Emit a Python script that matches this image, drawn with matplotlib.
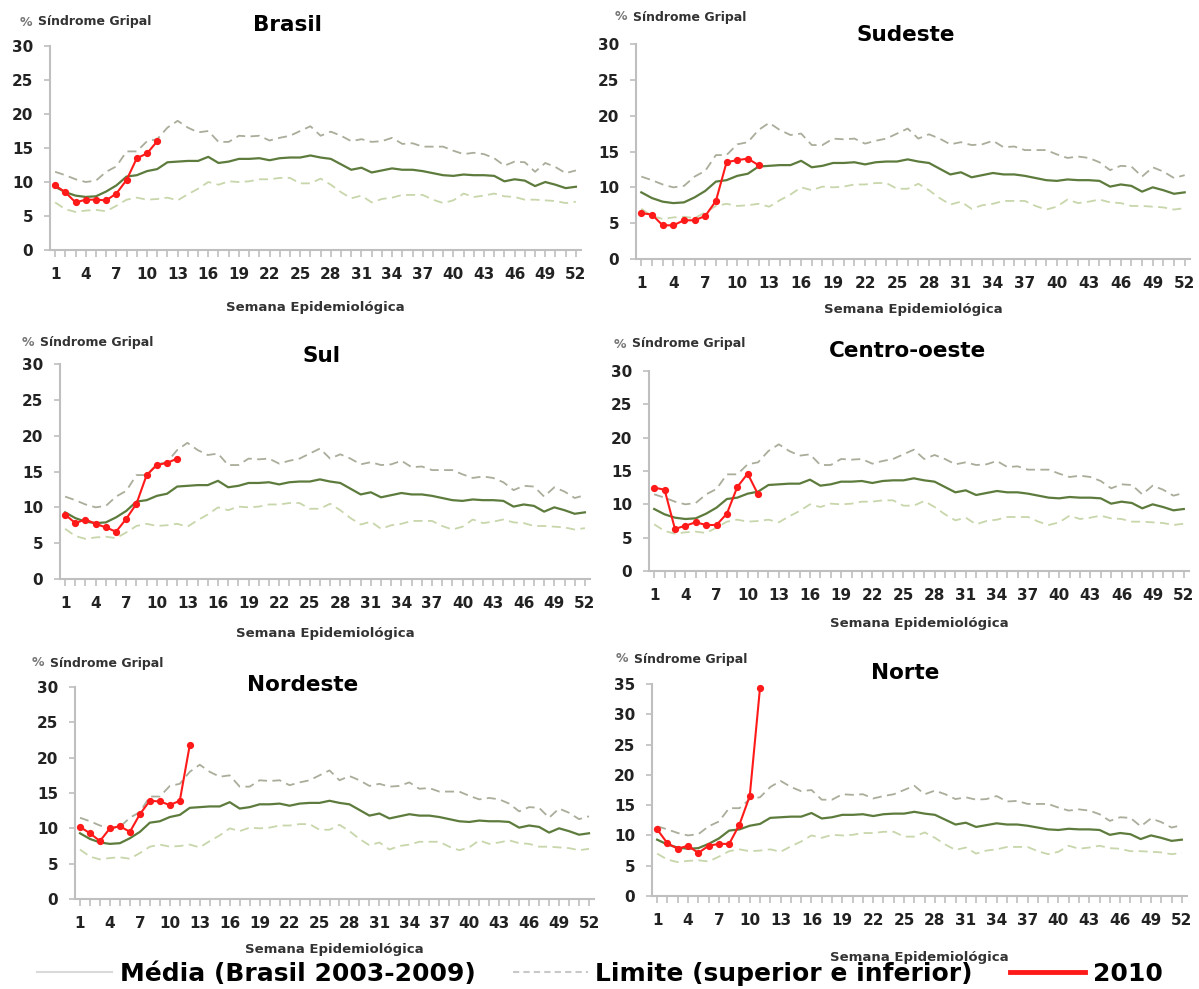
import matplotlib
matplotlib.use('Agg')
import matplotlib.pyplot as plt
from matplotlib.lines import Line2D

plt.rcParams['font.family'] = ['DejaVu Sans']

weeks = list(range(1, 53))
tick_weeks = list(range(1, 53, 3))

# media Brasil 2003-2009 (semanas 1..52)
media = [9.3, 8.5, 8.0, 7.8, 7.9, 8.6, 9.5, 10.8, 11.0, 11.6,
         11.9, 12.9, 13.0, 13.1, 13.1, 13.7, 12.8, 13.0, 13.4, 13.4,
         13.5, 13.2, 13.5, 13.6, 13.6, 13.9, 13.6, 13.4, 12.6, 11.8,
         12.1, 11.4, 11.7, 12.0, 11.8, 11.8, 11.6, 11.3, 11.0, 10.9,
         11.1, 11.0, 11.0, 10.9, 10.1, 10.4, 10.2, 9.4, 10.0, 9.6,
         9.1, 9.3]
limite_sup = [11.5, 11.0, 10.4, 10.0, 10.2, 11.5, 12.3, 14.5, 14.5, 16.0,
              16.3, 18.0, 19.0, 18.0, 17.3, 17.5, 15.9, 15.9, 16.8, 16.7,
              16.8, 16.1, 16.5, 16.8, 17.5, 18.2, 16.8, 17.4, 16.8, 16.0,
              16.3, 15.9, 16.0, 16.5, 15.6, 15.7, 15.2, 15.2, 15.2, 14.6,
              14.1, 14.3, 14.1, 13.5, 12.4, 13.0, 12.9, 11.5, 12.8, 12.2,
              11.3, 11.7]
limite_inf = [7.0, 6.0, 5.6, 5.8, 5.9, 5.7, 6.5, 7.4, 7.7, 7.4,
              7.5, 7.7, 7.3, 8.2, 9.0, 10.0, 9.6, 10.1, 10.0, 10.1,
              10.4, 10.4, 10.6, 10.6, 9.8, 9.8, 10.5, 9.6, 8.5, 7.6,
              8.0, 7.0, 7.5, 7.7, 8.1, 8.1, 8.1, 7.4, 6.9, 7.3,
              8.3, 7.8, 8.0, 8.3, 7.9, 7.8, 7.4, 7.4, 7.3, 7.2,
              6.9, 7.1]

# 2010 por regiao
brasil = [9.5, 8.5, 7.0, 7.4, 7.4, 7.3, 8.3, 10.3, 13.5, 14.2, 16.0]
sudeste = [6.4, 6.2, 4.7, 4.7, 5.4, 5.4, 6.0, 8.1, 13.5, 13.8, 14.0, 13.1]
sul = [9.0, 7.8, 8.3, 7.7, 7.2, 6.6, 8.4, 10.5, 14.5, 15.9, 16.2, 16.8]
centro_oeste = [12.5, 12.2, 6.3, 6.8, 7.3, 6.9, 6.9, 8.6, 12.6, 14.6, 11.5]
nordeste = [10.2, 9.3, 8.2, 10.0, 10.3, 9.5, 12.0, 13.9, 13.8, 13.3, 13.9, 21.8]
norte = [11.0, 8.7, 7.8, 8.3, 7.1, 8.3, 8.6, 8.6, 11.8, 16.5, 34.4]

W, H = 1199, 989
fig = plt.figure(figsize=(W / 100, H / 100), dpi=100)


def fx(x):
    return x / W


def fy(y):
    return 1 - y / H


# name, data, (left, right, top, bottom) px, ymax, title xy, ylabel xy, xlabel y
panels = [
    ('Brasil', brasil, (50, 581, 46, 250), 30, (287, 25), (20, 22), 307),
    ('Sudeste', sudeste, (636, 1190, 44, 259), 30, (906, 35), (615, 17), 310),
    ('Sul', sul, (60, 590, 364, 579), 30, (321, 356), (22, 342), 633),
    ('Centro-oeste', centro_oeste, (649, 1189, 371, 571), 30, (908, 351), (614, 344), 624),
    ('Nordeste', nordeste, (75, 594, 687, 899), 30, (303, 685), (32, 663), 950),
    ('Norte', norte, (652, 1187, 684, 896), 35, (905, 673), (616, 659), 957),
]

for name, vals, (l, r, t, b), ymax, tpos, ypos, xly in panels:
    ax = fig.add_axes([fx(l), fy(b), fx(r - l), (b - t) / H])
    ax.plot(weeks, limite_sup, color='#a9ad9a', lw=1.3, ls=(0, (5, 3)))
    ax.plot(weeks, limite_inf, color='#c8d6ab', lw=1.3, ls=(0, (5, 3)))
    ax.plot(weeks, media, color='#5d7b3c', lw=1.6)
    ax.plot(range(1, len(vals) + 1), vals, color='#ff1a1a', lw=1.5,
            marker='o', markersize=4.2)
    ax.set_xlim(0.5, 52.5)
    ax.set_ylim(0, ymax)
    ax.set_yticks(range(0, ymax + 1, 5))
    ax.set_xticks(tick_weeks)
    ax.set_xticks(weeks, minor=True)
    for s in ['top', 'right']:
        ax.spines[s].set_visible(False)
    for s in ['left', 'bottom']:
        ax.spines[s].set_color('#bfbfbf')
        ax.spines[s].set_linewidth(1.5)
    ax.tick_params(axis='both', which='both', color='#bfbfbf', width=1.2,
                   direction='out')
    ax.tick_params(axis='x', which='both', length=5, pad=7)
    ax.tick_params(axis='y', length=4, pad=8)
    ax.tick_params(labelsize=11)
    for lab in ax.get_xticklabels() + ax.get_yticklabels():
        lab.set_fontweight('bold')
        lab.set_color('#222222')
    fig.text(fx(tpos[0]), fy(tpos[1]), name, ha='center', va='center',
             fontsize=15.5, fontweight='bold')
    fig.text(fx(ypos[0]), fy(ypos[1]), '%', ha='left', va='center',
             fontsize=9, color='#777777', fontweight='bold')
    fig.text(fx(ypos[0] + 18), fy(ypos[1]), 'Síndrome Gripal', ha='left',
             va='center', fontsize=9, color='#333333', fontweight='bold')
    fig.text(fx((l + r) / 2), fy(xly), 'Semana Epidemiológica', ha='center',
             va='center', fontsize=9.5, color='#333333', fontweight='bold')

handles = [
    Line2D([], [], color='#d9d9d9', lw=1.5),
    Line2D([], [], color='#c8c8c8', lw=1.5, ls=(0, (3, 2))),
    Line2D([], [], color='#ff1a1a', lw=3.5),
]
labels = ['Média (Brasil 2003-2009)', 'Limite (superior e inferior)', '2010']
leg = fig.legend(handles, labels, loc='center', ncol=3,
                 bbox_to_anchor=(fx(600), fy(974)), frameon=False,
                 prop={'size': 18, 'weight': 'bold'}, handlelength=3.0,
                 handletextpad=0.3, columnspacing=1.5)

fig.savefig('out.png', dpi=100)
